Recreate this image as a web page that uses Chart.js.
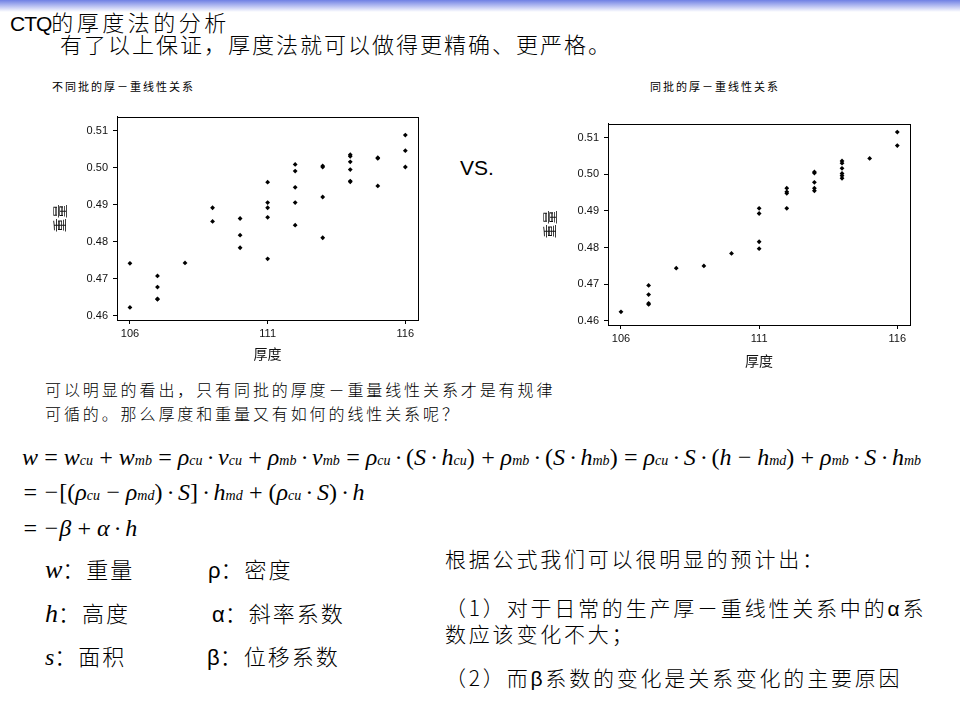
<!DOCTYPE html>
<html lang="zh-CN">
<head>
<meta charset="utf-8">
<script src="https://cdn.jsdelivr.net/npm/chart.js@4/dist/chart.umd.min.js"></script>
<style>
    html, body { margin: 0; padding: 0; background: #fff; }
    #slide { position: relative; width: 960px; height: 720px; overflow: hidden; background: #fff;
             font-family: 'Liberation Sans', 'Noto Sans CJK SC', sans-serif; color: #000; }
    .abs { position: absolute; white-space: nowrap; }
    .topbar { left: 0; top: 0; width: 960px; height: 12px; background: linear-gradient(#6f80e4, #fff); }
    .cn { font-family: 'Noto Sans CJK SC', sans-serif; font-weight: 300; }
    .math { font-family: 'Liberation Serif', 'DejaVu Serif', serif; font-style: italic; font-size: 24px; line-height: 24px; word-spacing: -1.2px; }
    .math .s { font-size: 14px; }
    .math .u { font-style: normal; }
    .chart-box { position: absolute; width: 400px; height: 265px; }
</style>
</head>
<body>
<div id="slide">
    <div class="abs topbar"></div>
    <div class="abs" style="left:10px;top:10px;font-size:22px;line-height:22px;"><span style="font-size:21px;letter-spacing:-1px;">CTQ</span><span class="cn" style="letter-spacing:3.5px;">的厚度法的分析</span></div>
    <div class="abs cn" style="left:60px;top:32px;font-size:22px;line-height:22px;letter-spacing:2px;">有了以上保证，厚度法就可以做得更精确、更严格。</div>

    <div class="abs cn" style="left:52px;top:79px;font-size:11px;line-height:14px;letter-spacing:2px;font-weight:400;">不同批的厚－重线性关系</div>
    <div class="abs cn" style="left:650px;top:79px;font-size:11px;line-height:14px;letter-spacing:2px;font-weight:400;">同批的厚－重线性关系</div>
    <div class="abs" style="left:460px;top:157px;font-size:21px;line-height:22px;">VS.</div>

    <div class="chart-box" style="left:40px;top:105px;"><canvas id="chartLeft"></canvas></div>
    <div class="chart-box" style="left:530px;top:112px;"><canvas id="chartRight"></canvas></div>

    <div class="abs cn" style="left:45px;top:377px;font-size:16px;line-height:24px;letter-spacing:2.9px;">可以明显的看出，只有同批的厚度－重量线性关系才是有规律<br>可循的。那么厚度和重量又有如何的线性关系呢？</div>

    <div class="abs math" style="left:22px;top:445px;">w = w<span class="s">cu</span> + w<span class="s">mb</span> = ρ<span class="s">cu</span> · v<span class="s">cu</span> + ρ<span class="s">mb</span> · v<span class="s">mb</span> = ρ<span class="s">cu</span> · <span class="u">(</span>S · h<span class="s">cu</span><span class="u">)</span> + ρ<span class="s">mb</span> · <span class="u">(</span>S · h<span class="s">mb</span><span class="u">)</span> = ρ<span class="s">cu</span> · S · <span class="u">(</span>h − h<span class="s">md</span><span class="u">)</span> + ρ<span class="s">mb</span> · S · h<span class="s">mb</span></div>
    <div class="abs math" style="left:22px;top:480px;">= −<span class="u">[(</span>ρ<span class="s">cu</span> − ρ<span class="s">md</span><span class="u">)</span> · S<span class="u">]</span> · h<span class="s">md</span> + <span class="u">(</span>ρ<span class="s">cu</span> · S<span class="u">)</span> · h</div>
    <div class="abs math" style="left:22px;top:516px;">= −β + α · h</div>

    <div class="abs" style="left:45px;top:555px;font-size:22px;line-height:26px;"><span class="math" style="font-size:26px;">w</span><span class="cn" style="letter-spacing:2px;">：重量</span></div>
    <div class="abs" style="left:45px;top:599px;font-size:22px;line-height:26px;"><span class="math" style="font-size:26px;">h</span><span class="cn" style="letter-spacing:2px;">：高度</span></div>
    <div class="abs" style="left:45px;top:642px;font-size:22px;line-height:26px;"><span class="math" style="font-size:24px;">s</span><span class="cn" style="letter-spacing:2px;">：面积</span></div>
    <div class="abs" style="left:208px;top:555px;font-size:22px;line-height:26px;"><span>ρ</span><span class="cn" style="letter-spacing:2px;">：密度</span></div>
    <div class="abs" style="left:212px;top:599px;font-size:22px;line-height:26px;"><span>α</span><span class="cn" style="letter-spacing:2px;">：斜率系数</span></div>
    <div class="abs" style="left:207px;top:642px;font-size:22px;line-height:26px;"><span>β</span><span class="cn" style="letter-spacing:2px;">：位移系数</span></div>

    <div class="abs cn" style="left:445px;top:546px;font-size:21px;line-height:24px;letter-spacing:2.8px;">根据公式我们可以很明显的预计出：</div>
    <div class="abs cn" style="left:445px;top:595px;font-size:21px;line-height:25px;letter-spacing:2.8px;">（1）对于日常的生产厚－重线性关系中的<span style="font-family:'Liberation Sans';">α</span>系<br>数应该变化不大；</div>
    <div class="abs cn" style="left:445px;top:665px;font-size:21px;line-height:24px;letter-spacing:2.8px;">（2）而<span style="font-family:'Liberation Sans';">β</span>系数的变化是关系变化的主要原因</div>
</div>

<script>
// ─── Data ─────────────────────────────────────────────────────────────────────
const xTicks = [106, 111, 116];
const yTicks = [0.46, 0.47, 0.48, 0.49, 0.50, 0.51];

// 不同批 (different batches)
const leftThickness = [106, 106, 107, 107, 107, 107, 108, 109, 109, 110, 110, 110,
    111, 111, 111, 111, 111, 112, 112, 112, 112, 112, 113, 113, 113, 113,
    114, 114, 114, 114, 114, 114, 115, 115, 115, 116, 116, 116];
const leftWeight = [0.4742, 0.4623, 0.4708, 0.4678, 0.4646, 0.4645, 0.4743, 0.4892, 0.4855,
    0.4863, 0.4818, 0.4784, 0.4961, 0.4906, 0.4892, 0.4866, 0.4754,
    0.5009, 0.4991, 0.4947, 0.4906, 0.4845, 0.5005, 0.5002, 0.4921, 0.4811,
    0.5035, 0.5031, 0.5016, 0.4995, 0.4964, 0.4962, 0.5027, 0.5025, 0.4951,
    0.5088, 0.5046, 0.5002];

// 同批 (same batch)
const rightThickness = [106, 107, 107, 107, 107, 108, 109, 110, 111, 111, 111, 111,
    112, 112, 112, 112, 113, 113, 113, 113, 113, 114, 114, 114, 114, 114, 114,
    115, 116, 116];
const rightWeight = [0.4625, 0.4697, 0.4672, 0.4648, 0.4645, 0.4744, 0.4750, 0.4784,
    0.4907, 0.4893, 0.4816, 0.4797, 0.4962, 0.4952, 0.4948, 0.4907,
    0.5006, 0.5003, 0.4978, 0.4962, 0.4955, 0.5036, 0.5030, 0.5016, 0.5002, 0.4996, 0.4989,
    0.5043, 0.5115, 0.5078];

const xRange = [105.53, 116.46];
const yRange = [0.4589, 0.5138];

// ─── Helpers ──────────────────────────────────────────────────────────────────
const tickFont = { family: "'Liberation Sans', Arial, sans-serif", size: 11 };
const titleFont = { family: "'Noto Sans CJK SC', sans-serif", size: 14 };

// box round the plot area, like the Minitab frame
const framePlugin = {
    id: 'frame',
    afterDraw(chart) {
        const { ctx, chartArea: a } = chart;
        ctx.save();
        ctx.strokeStyle = '#000';
        ctx.lineWidth = 1;
        ctx.strokeRect(Math.round(a.left) + 0.5, Math.round(a.top) + 0.5,
            Math.round(a.right - a.left), Math.round(a.bottom - a.top));
        ctx.restore();
    },
};

function buildScatter(id, xs, ys, layout) {
    const ctx = document.getElementById(id);
    return new Chart(ctx, {
        type: 'scatter',
        data: {
            datasets: [{
                data: xs.map((x, i) => ({ x, y: ys[i] })),
                backgroundColor: '#000',
                borderWidth: 0,
                pointStyle: 'rectRot',
                pointRadius: 2.4,
                pointHoverRadius: 2.4,
            }],
        },
        options: {
            responsive: true,
            maintainAspectRatio: false,
            animation: false,
            events: [],
            layout: { padding: { top: layout.top, right: layout.right, left: 0, bottom: 0 } },
            plugins: { legend: { display: false }, tooltip: { enabled: false } },
            scales: {
                x: {
                    type: 'linear',
                    min: xRange[0],
                    max: xRange[1],
                    afterBuildTicks: s => { s.ticks = xTicks.map(v => ({ value: v })); },
                    afterFit: s => { s.height = layout.xAxis; },
                    ticks: { color: '#111', font: tickFont, padding: 3, maxRotation: 0 },
                    grid: { drawOnChartArea: false, tickLength: 4, color: '#000' },
                    border: { color: '#000' },
                    title: { display: true, text: '厚度', color: '#111', font: titleFont, padding: { top: 0, bottom: 8 } },
                },
                y: {
                    type: 'linear',
                    min: yRange[0],
                    max: yRange[1],
                    afterBuildTicks: s => { s.ticks = yTicks.map(v => ({ value: v })); },
                    afterFit: s => { s.width = layout.yAxis; },
                    ticks: { color: '#111', font: tickFont, padding: 5, callback: v => v.toFixed(2) },
                    grid: { drawOnChartArea: false, tickLength: 4, color: '#000' },
                    border: { color: '#000' },
                    title: { display: true, text: '重量', color: '#111', font: titleFont, padding: { top: 11, bottom: 0 } },
                },
            },
        },
        plugins: [framePlugin],
    });
}

buildScatter('chartLeft', leftThickness, leftWeight, { top: 9, right: 22, xAxis: 50, yAxis: 77 });
buildScatter('chartRight', rightThickness, rightWeight, { top: 8, right: 20, xAxis: 52, yAxis: 78 });
</script>
</body>
</html>
